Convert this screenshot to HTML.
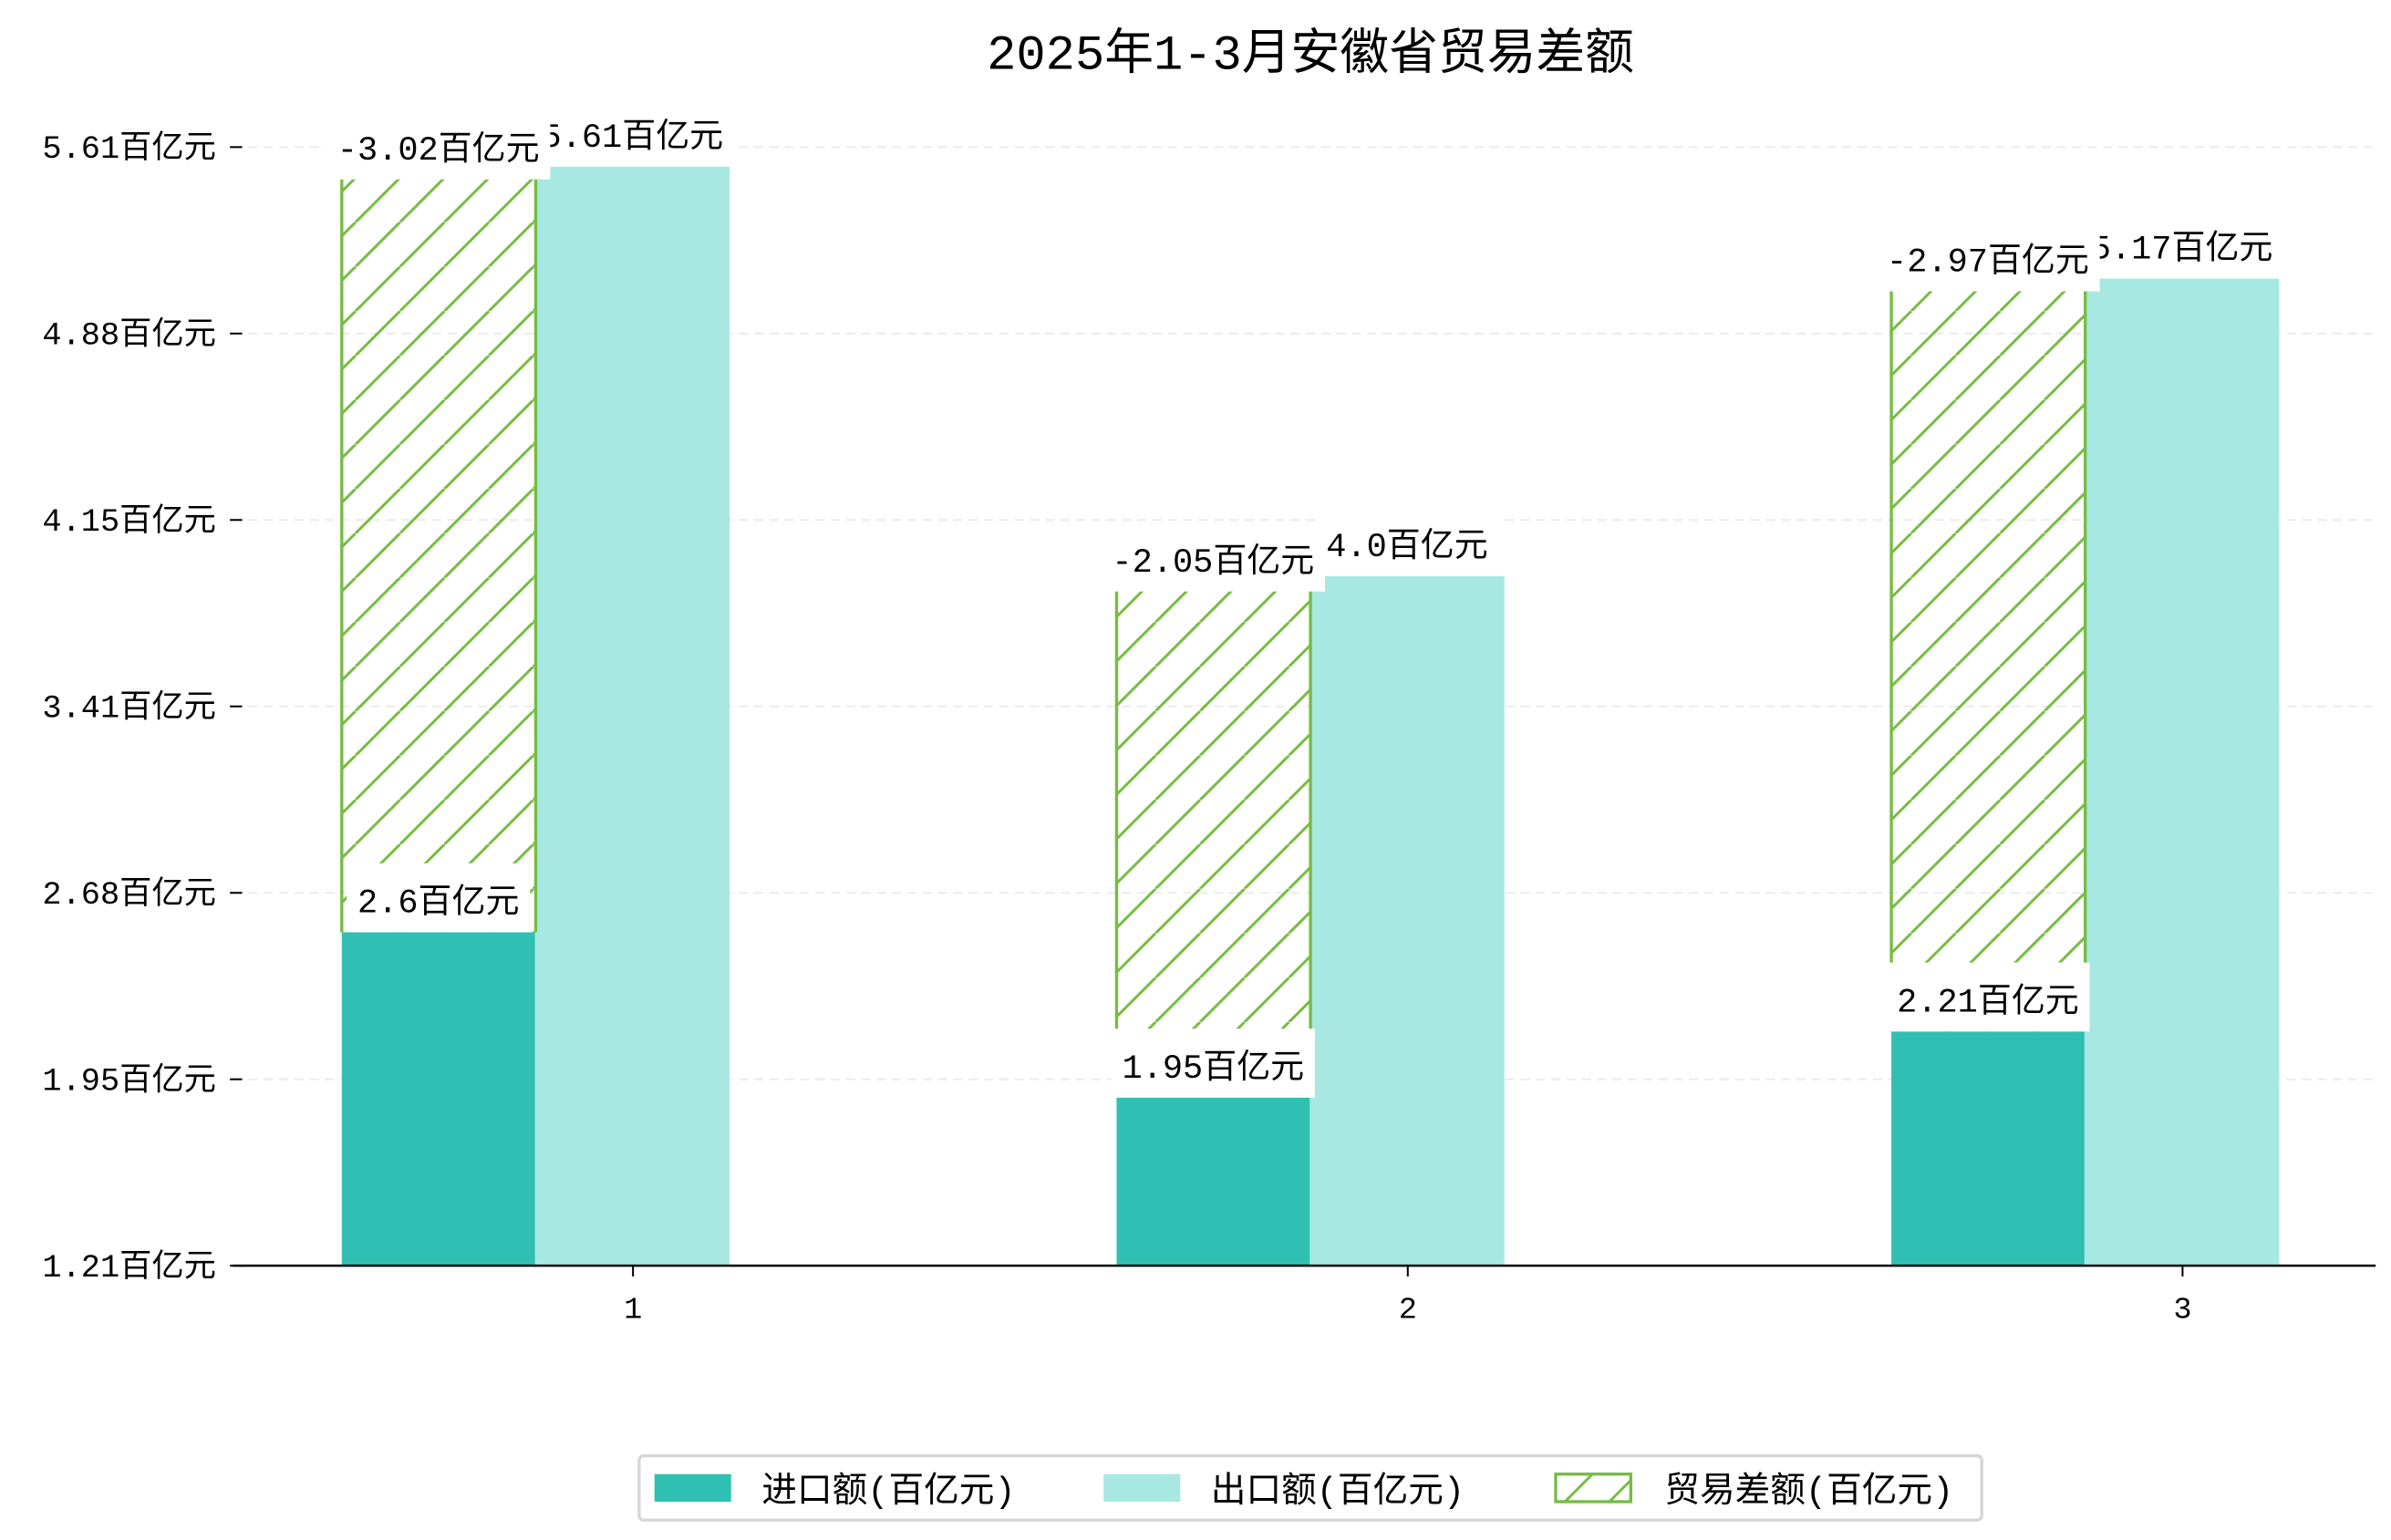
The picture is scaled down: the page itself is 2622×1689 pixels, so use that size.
<!DOCTYPE html>
<html><head><meta charset="utf-8"><style>
html,body{margin:0;padding:0;background:#fff}
svg{display:block}
text{font-family:"Liberation Mono","Noto Sans CJK SC","WenQuanYi Zen Hei",monospace;fill:#000}
</style></head><body>
<svg id="chart" width="2622" height="1689" viewBox="0 0 1560 1005" preserveAspectRatio="none" xmlns="http://www.w3.org/2000/svg">
<defs>
<pattern id="hatch" patternUnits="userSpaceOnUse" width="29" height="29">
<line x1="0" y1="29" x2="29" y2="0" stroke="#77bb44" stroke-width="1.8"/>
<line x1="-29" y1="29" x2="0" y2="0" stroke="#77bb44" stroke-width="1.8"/>
<line x1="29" y1="29" x2="58" y2="0" stroke="#77bb44" stroke-width="1.8"/>
</pattern>
</defs>
<text x="855" y="45" font-size="32" text-anchor="middle">2025年1-3月安徽省贸易差额</text>
<g id="grid"></g><g id="bars"></g><g id="labels"></g><g id="axes"></g>
<g>
<rect x="417" y="950" width="876" height="42" fill="#fff" stroke="#d6d6d6" stroke-width="2" rx="3"/>
<rect x="427" y="962" width="50" height="18" fill="#30c0b3"/>
<text x="497" y="980" font-size="23">进口额(百亿元)</text>
<rect x="720" y="962" width="50" height="18" fill="#a8e8e2"/>
<text x="790" y="980" font-size="23">出口额(百亿元)</text>
<rect x="1015" y="962" width="49" height="18" fill="url(#hatch)" stroke="#77bb44" stroke-width="2"/>
<text x="1086" y="980" font-size="23">贸易差额(百亿元)</text>
</g>
</svg>
<script>
const categories = ["1", "2", "3"];
const importVals = [2.6, 1.95, 2.21];
const exportVals = [5.61, 4.0, 5.17];
const balanceVals = [-3.02, -2.05, -2.97];
const tickLabels = ["1.21", "1.95", "2.68", "3.41", "4.15", "4.88", "5.61"];

const NS = "http://www.w3.org/2000/svg";
const axisY0 = 826, axisTop = 96, plotL = 152, plotR = 1550;
function y(v){ return 1040 - v * 166; }
function xc(i){ return 413 + i * 505.5; }
const bw = 126.5;
function mk(tag, attrs, parent){
  const e = document.createElementNS(NS, tag);
  for (const k in attrs) e.setAttribute(k, attrs[k]);
  parent.appendChild(e); return e;
}
function textW(s, fs){
  let w = 0;
  for (const ch of s) w += ch.charCodeAt(0) > 255 ? fs : fs * 0.6;
  return w;
}
const grid = document.getElementById('grid'), bars = document.getElementById('bars'),
      labels = document.getElementById('labels'), axes = document.getElementById('axes');

tickLabels.forEach((t, i) => {
  const ty = axisY0 - i * (axisY0 - axisTop) / (tickLabels.length - 1);
  if (i > 0) {
    const g = mk('line', {x1: plotL, x2: plotR, y1: ty, y2: ty, stroke: '#ececec', 'stroke-width': 1.2, 'stroke-dasharray': '6,4'}, grid);
    
    
  }
  const tk = mk('line', {x1: 150, x2: 158, y1: ty, y2: ty, stroke: '#000', 'stroke-width': 1.2}, axes);
  
  
  const tl = mk('text', {x: 141, y: ty + 7, 'font-size': 21, 'text-anchor': 'end'}, axes);
  tl.textContent = t + '百亿元';
  
  
});
const ax = mk('line', {x1: plotL, x2: plotR, y1: axisY0, y2: axisY0, stroke: '#000', 'stroke-width': 1.5}, axes);



function labelBox(cx, bottom, txt, name, h){
  const w = textW(txt, 22) + 14;
  const r = mk('rect', {x: cx - w/2, y: bottom - h, width: w, height: h, fill: '#fff'}, labels);
  
  
  const t = mk('text', {x: cx, y: bottom - 13, 'font-size': 22, 'text-anchor': 'middle'}, labels);
  t.textContent = txt;
  
  
}

categories.forEach((c, i) => {
  const cx = xc(i);
  const ix = cx - 190, ex = cx - 64;
  const ib = mk('rect', {x: ix, y: y(importVals[i]), width: bw, height: axisY0 - y(importVals[i]), fill: '#30c0b3'}, bars);
  
  
  const eb = mk('rect', {x: ex, y: y(exportVals[i]), width: bw + 0.5, height: axisY0 - y(exportVals[i]), fill: '#a8e8e2'}, bars);
  
  
  const top = y(importVals[i] - balanceVals[i]);
  const hb = mk('rect', {x: ix, y: top, width: bw, height: y(importVals[i]) - top, fill: 'url(#hatch)'}, bars);
  
  
  [ix, ix + bw].forEach(lx => {
    const el = mk('line', {x1: lx, x2: lx, y1: top, y2: y(importVals[i]), stroke: '#77bb44', 'stroke-width': 2}, bars);
    
    
  });
  const xt = mk('line', {x1: cx, x2: cx, y1: axisY0, y2: axisY0 + 7, stroke: '#000', 'stroke-width': 1.2}, axes);
  
  
  const xl = mk('text', {x: cx, y: axisY0 + 34, 'font-size': 20, 'text-anchor': 'middle'}, axes);
  xl.textContent = c;
  
  
});
categories.forEach((c, i) => {
  const cx = xc(i);
  labelBox(cx - 127, y(importVals[i]), importVals[i] + '百亿元', 'label-import-' + c, 45);
  labelBox(cx - 0.5, y(exportVals[i]), exportVals[i].toFixed(exportVals[i] % 1 === 0 ? 1 : 2) + '百亿元', 'label-export-' + c, 40);
  labelBox(cx - 127, y(importVals[i] - balanceVals[i]) + 10, balanceVals[i].toFixed(2) + '百亿元', 'label-balance-' + c, 40);
});
</script>
</body></html>
